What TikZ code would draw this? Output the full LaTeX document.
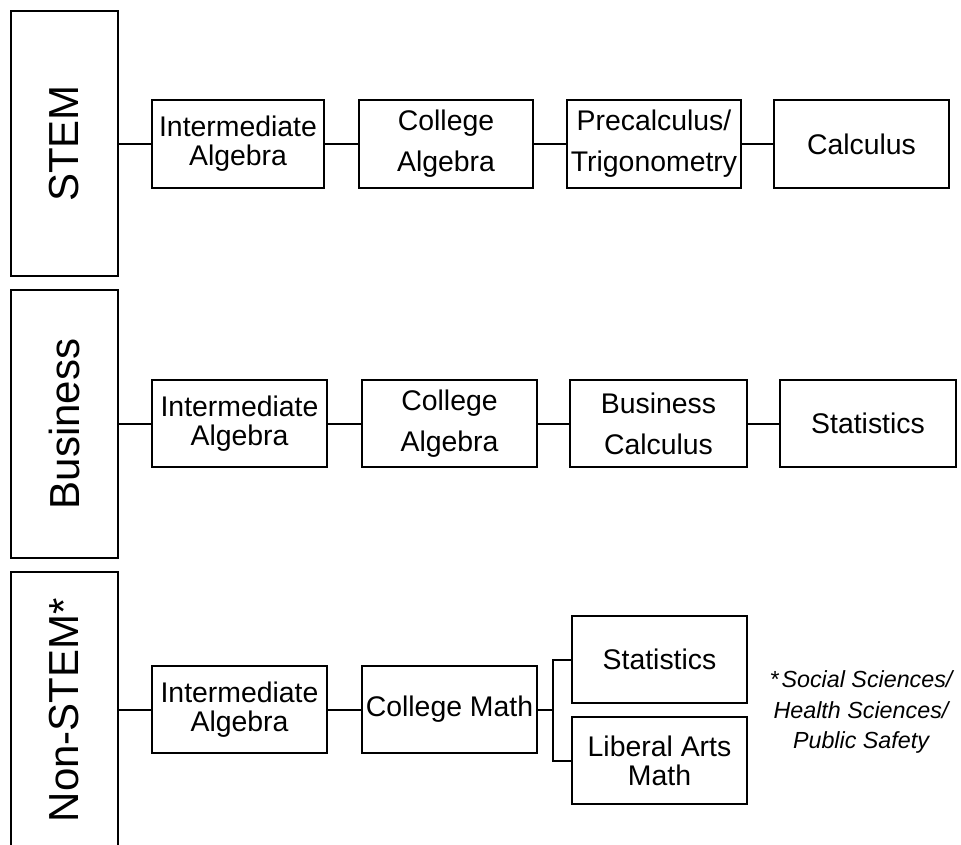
\documentclass[tikz,border=0pt]{standalone}
\usepackage{fontspec}
\setmainfont{Liberation Sans}
\begin{document}
\begin{tikzpicture}[x=1pt,y=-1pt,
  line width=2pt,
  course/.style={draw, line width=2pt, inner sep=0pt, align=center,
    font=\fontsize{28.4}{29}\selectfont},
  track/.style={draw, line width=2pt, inner sep=0pt,
    minimum width=107pt, font=\fontsize{42}{46}\selectfont},
  tracklabel/.style={rotate=90, inner sep=0pt, font=\fontsize{42}{46}\selectfont},
  note/.style={align=center, inner sep=0pt, font=\fontsize{23.3}{30.5}\selectfont\itshape},
  link/.style={draw, line width=2pt}]
\useasboundingbox (0,0) rectangle (961,845);
\clip (0,0) rectangle (961,845);
\fill[white] (0,0) rectangle (961,845);

% track boxes (left column)
\node[track, minimum height=265pt] (stem) at (64.5,143.5) {};
\node[tracklabel] (stemlbl) at (stem.center) {STEM};
\node[track, minimum height=268pt] (bus) at (64,424) {};
\node[tracklabel] (buslbl) at (bus.center) {Business};
\node[track, minimum height=300pt] (non) at (64.5,722) {};
\node[tracklabel] (nonlbl) at (64.5,710) {Non-STEM*};

% STEM sequence
\node[course, minimum width=172pt, minimum height=88pt] (s1) at (238,144) {Intermediate\\Algebra};
\node[course, minimum width=174pt, minimum height=88pt] (s2) at (446,144) {College\\[12pt]Algebra};
\node[course, minimum width=174pt, minimum height=88pt] (s3) at (654,144) {Precalculus/\\[12pt]Trigonometry};
\node[course, minimum width=175pt, minimum height=88pt] (s4) at (861.5,144) {Calculus};

% Business sequence
\node[course, minimum width=175pt, minimum height=87pt] (b1) at (239.5,423.5) {Intermediate\\Algebra};
\node[course, minimum width=175pt, minimum height=87pt] (b2) at (449.5,423.5) {College\\[12pt]Algebra};
\node[course, minimum width=177pt, minimum height=87pt] (b3) at (658.5,423.5) {Business\\[12pt]Calculus};
\node[course, minimum width=176pt, minimum height=87pt] (b4) at (868,423.5) {Statistics};

% Non-STEM sequence
\node[course, minimum width=175pt, minimum height=87pt] (n1) at (239.5,709.5) {Intermediate\\Algebra};
\node[course, minimum width=175pt, minimum height=87pt] (n2) at (449.5,709.5) {College Math};
\node[course, minimum width=175pt, minimum height=87pt] (n3) at (659.5,659.5) {Statistics};
\node[course, minimum width=175pt, minimum height=87pt] (n4) at (659.5,760.5) {Liberal Arts\\Math};

% footnote
\node[note] (fn) at (861,712) {*\kern3pt Social Sciences/\\Health Sciences/\\Public Safety};

% connectors
\draw[link] (stem.east |- s1.west) -- (s1.west);
\draw[link] (s1) -- (s2);
\draw[link] (s2) -- (s3);
\draw[link] (s3) -- (s4);

\draw[link] (bus.east |- b1.west) -- (b1.west);
\draw[link] (b1) -- (b2);
\draw[link] (b2) -- (b3);
\draw[link] (b3) -- (b4);

\draw[link] (non.east |- n1.west) -- (n1.west);
\draw[link] (n1) -- (n2);
\coordinate (fork) at (553,709.5);
\draw[link] (n2.east) -- (fork);
\draw[link] (n3.west) -| (fork) |- (n4.west);
\end{tikzpicture}
\end{document}
